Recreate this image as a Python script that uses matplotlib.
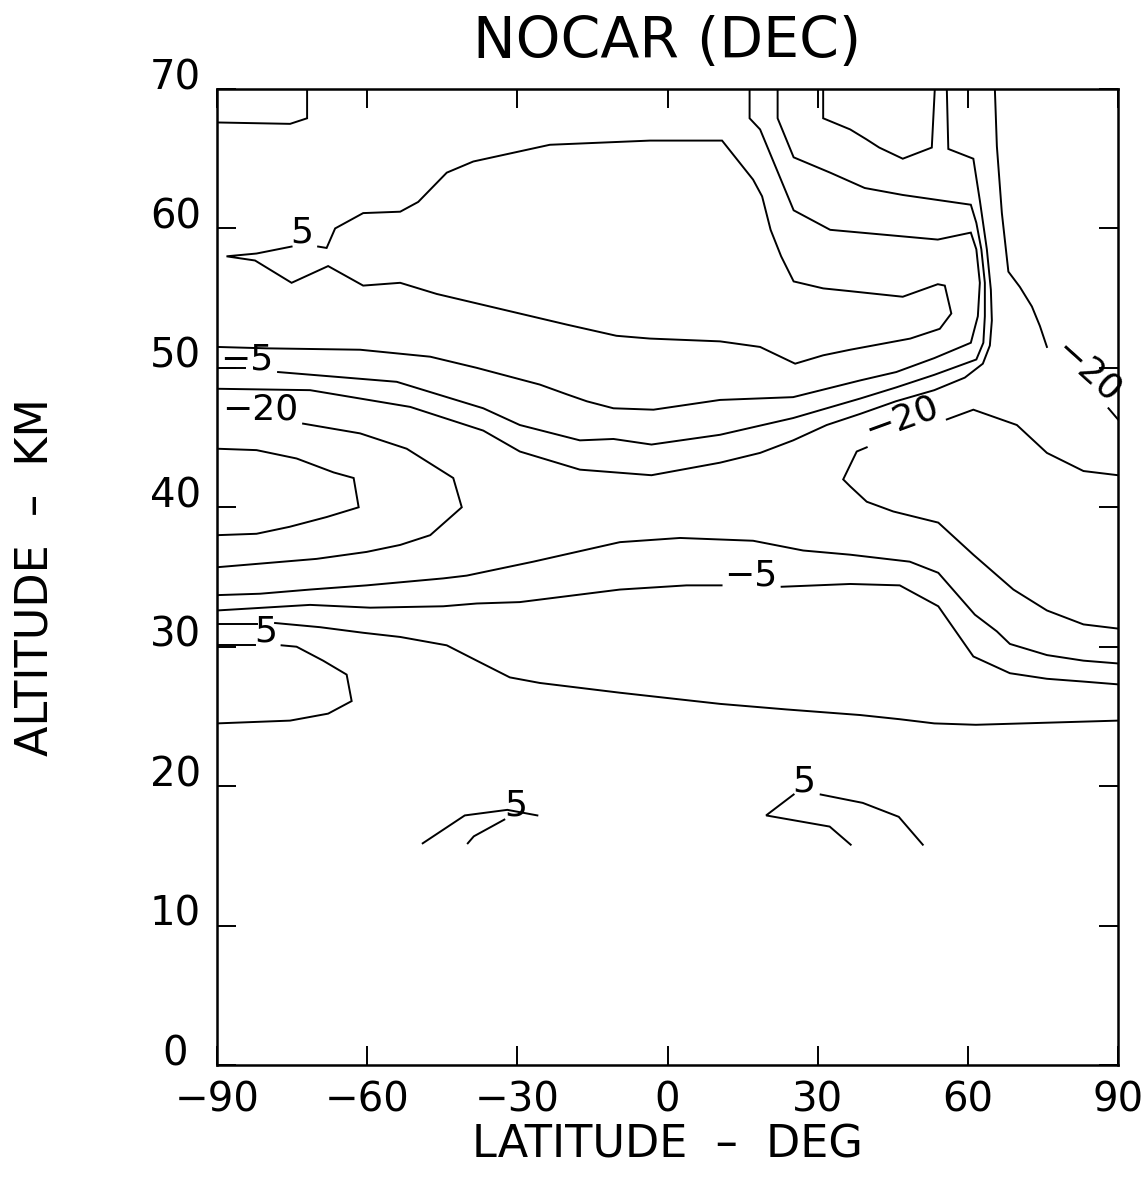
import matplotlib
matplotlib.use("Agg")
import matplotlib.pyplot as plt

# contour lines of the NOCAR December cross-section
# (latitude in deg, altitude in km); label gaps split a line in two pieces

# small contour in the upper left corner
topleft_lat = [-90.0, -75.4, -72.0, -72.0]
topleft_alt = [67.6, 67.5, 67.9, 70.0]

# closed +5 contour at 50-66 km (starts after its label)
c5_lat = [-69.8, -68.1, -66.4, -60.8, -53.4, -49.8, -44.1, -38.8, -23.5, -3.5,
          10.9, 17.1, 18.9, 20.6, 22.7, 25.2, 31.1, 36.5, 47.0, 54.0, 55.4, 56.7,
          54.4, 48.5, 36.5, 31.1, 25.5, 18.5, 10.5, -3.5, -10.2, -20.1, -46.1,
          -53.4, -60.8, -67.8, -75.1, -82.4, -88.1, -82.1, -75.1]
c5_alt = [58.7, 58.6, 60.0, 61.1, 61.2, 61.9, 64.0, 64.8, 66.0, 66.3,
          66.3, 63.5, 62.3, 59.9, 58.0, 56.2, 55.7, 55.5, 55.1, 56.0, 55.9, 53.9,
          52.8, 52.1, 51.3, 50.9, 50.3, 51.5, 51.9, 52.1, 52.3, 53.1, 55.3,
          56.1, 55.9, 57.3, 56.1, 57.7, 58.0, 58.2, 58.7]

# 0 contour: from the top near 16N, round the +5 cell, to the left edge
c0_lat = [16.4, 16.4, 18.5, 25.2, 32.5, 54.0, 60.6, 61.7, 62.4, 62.0, 60.6,
          53.3, 45.7, 38.5, 25.1, 10.5, -2.8, -10.8, -16.1, -20.1, -25.5,
          -38.1, -47.4, -61.4, -80.1, -90.0]
c0_alt = [70.0, 67.9, 67.1, 61.3, 59.9, 59.2, 59.7, 58.5, 56.1, 53.7, 51.8,
          50.7, 49.7, 49.1, 47.9, 47.7, 47.0, 47.1, 47.6, 48.1, 48.8,
          50.0, 50.8, 51.3, 51.4, 51.5]

# -5 contour: from the top near 22N to the left edge (label at the left)
cm5_lat = [22.0, 22.0, 25.2, 32.5, 39.4, 47.0, 60.6, 61.7, 62.7, 63.4, 63.4,
           63.1, 61.7, 53.3, 45.7, 38.5, 25.1, 10.5, -3.2, -10.8, -17.5,
           -29.5, -36.8, -54.1, -77.8]
cm5_alt = [70.0, 67.9, 65.1, 64.0, 62.9, 62.4, 61.7, 60.4, 58.5, 56.1, 53.7,
           51.8, 50.6, 49.5, 48.6, 47.8, 46.4, 45.2, 44.5, 44.9, 44.8,
           45.9, 47.1, 49.0, 49.7]
cm5_stub_lat = [-90.0, -84.4]
cm5_stub_alt = [50.0, 50.0]

# -10 contour: from the top near 56N to the left edge
cm10_lat = [55.8, 56.1, 61.1, 62.4, 63.8, 64.6, 64.8, 64.4, 63.0, 59.4, 53.3,
            45.6, 38.5, 31.8, 25.1, 18.5, 10.5, -3.2, -17.5, -29.5, -36.8,
            -51.4, -71.4, -90.0]
cm10_alt = [70.0, 65.7, 65.0, 62.0, 58.5, 55.6, 53.4, 51.6, 50.3, 49.3, 48.4,
            47.6, 46.7, 45.9, 44.8, 43.9, 43.2, 42.3, 42.7, 44.0, 45.5,
            47.2, 48.4, 48.5]

# bowl shaped contour hanging from the top at 30-55N
bowl_lat = [31.1, 31.1, 36.5, 39.7, 42.3, 47.0, 52.8, 53.4]
bowl_alt = [70.0, 67.9, 67.1, 66.4, 65.8, 65.0, 65.8, 70.0]

# -20 contour in the upper right corner (label near the right edge)
cm20a_lat = [65.4, 65.8, 66.8, 68.1, 70.4, 72.8, 74.4, 75.8]
cm20a_alt = [70.0, 65.9, 61.1, 56.9, 55.8, 54.4, 53.0, 51.5]
cm20a_end_lat = [88.1, 90.0]
cm20a_end_alt = [47.1, 46.3]

# -20 cell entering from the right edge
cm20b_lat = [90.0, 83.1, 75.8, 69.8, 61.1, 55.8]
cm20b_alt = [42.3, 42.6, 43.9, 45.9, 47.0, 46.3]
cm20b_low_lat = [39.8, 37.8, 35.1, 36.5, 39.8, 45.1, 54.1, 61.1, 69.1, 75.8, 83.1, 90.0]
cm20b_low_alt = [44.3, 44.0, 42.0, 41.5, 40.4, 39.7, 38.9, 36.6, 34.1, 32.6, 31.6, 31.3]

# -20 cell entering from the left edge
cm20c_lat = [-72.8, -61.4, -52.1, -42.8, -41.1, -47.4, -53.4, -60.1, -70.1, -90.0]
cm20c_alt = [46.0, 45.3, 44.2, 42.1, 40.0, 38.0, 37.3, 36.8, 36.3, 35.7]

# innermost cell at the left edge near 40 km
inner_lat = [-90.0, -82.1, -74.1, -66.7, -62.7, -61.7, -68.1, -75.5, -82.1, -90.0]
inner_alt = [44.2, 44.1, 43.5, 42.5, 42.1, 40.0, 39.3, 38.6, 38.1, 38.0]

# lower -10 contour, edge to edge
lm10_lat = [-90.0, -81.4, -71.4, -60.1, -44.8, -40.1, -26.8, -9.5, 2.5, 17.1,
            27.1, 36.5, 48.4, 54.1, 61.4, 65.8, 68.4, 75.8, 83.1, 90.0]
lm10_alt = [33.7, 33.8, 34.1, 34.4, 34.9, 35.1, 36.1, 37.5, 37.8, 37.6,
            36.9, 36.6, 36.1, 35.3, 32.3, 31.1, 30.2, 29.4, 29.0, 28.8]

# lower -5 contour, edge to edge (label near 17N)
lm5_lat = [-90.0, -71.4, -59.4, -44.8, -38.1, -29.5, -9.5, 3.8, 10.8]
lm5_alt = [32.6, 33.0, 32.8, 32.9, 33.1, 33.2, 34.1, 34.4, 34.4]
lm5_right_lat = [22.8, 36.5, 46.4, 54.1, 61.1, 68.4, 75.8, 83.1, 90.0]
lm5_right_alt = [34.3, 34.5, 34.4, 32.9, 29.3, 28.1, 27.7, 27.5, 27.3]

# lower 0 contour, edge to edge
l0_stub_lat = [-90.0, -82.1]
l0_stub_alt = [31.6, 31.6]
l0_lat = [-78.4, -69.4, -60.8, -53.4, -44.1, -38.1, -31.5, -25.5, -9.5, 10.5,
          23.8, 38.5, 46.4, 53.3, 61.6, 90.0]
l0_alt = [31.7, 31.4, 31.0, 30.7, 30.1, 29.0, 27.8, 27.4, 26.7, 25.9,
          25.5, 25.1, 24.8, 24.5, 24.4, 24.7]

# +5 lobe at the left edge near 27 km
lobe5_stub_lat = [-90.0, -82.4]
lobe5_stub_alt = [30.1, 30.1]
lobe5_lat = [-77.1, -74.1, -68.8, -64.1, -63.1, -67.8, -75.4, -90.0]
lobe5_alt = [30.1, 30.0, 29.0, 28.0, 26.1, 25.2, 24.7, 24.5]

# +5 arcs near 16-19 km
arc_sh_lat = [-48.9, -40.5, -32.0, -26.0]
arc_sh_alt = [15.9, 17.9, 18.3, 17.9]
arc_sh_back_lat = [-32.6, -38.7, -39.9]
arc_sh_back_alt = [17.6, 16.4, 15.9]
arc_nh_lat = [36.6, 32.4, 19.7, 25.2]
arc_nh_alt = [15.8, 17.1, 17.9, 19.4]
arc_nh_right_lat = [30.6, 39.0, 46.2, 51.0]
arc_nh_right_alt = [19.4, 18.8, 17.8, 15.8]

# contour labels
label_text = ["5", "\u22125", "\u221220", "\u221220", "\u221220", "\u22125", "5", "5", "5"]
label_lat = [-73.1, -84.1, -81.3, 46.8, 84.0, 16.7, -80.2, -30.3, 27.3]
label_alt = [59.7, 50.6, 47.0, 46.4, 49.7, 35.1, 31.1, 18.6, 20.3]
label_rot = [0, 0, 0, 20, -42, 0, 0, 0, 0]

xticks = [-90, -60, -30, 0, 30, 60, 90]
yticks = [0, 10, 20, 30, 40, 50, 60, 70]

lines = [
    (topleft_lat, topleft_alt), (c5_lat, c5_alt), (c0_lat, c0_alt),
    (cm5_lat, cm5_alt), (cm5_stub_lat, cm5_stub_alt), (cm10_lat, cm10_alt),
    (bowl_lat, bowl_alt), (cm20a_lat, cm20a_alt), (cm20a_end_lat, cm20a_end_alt),
    (cm20b_lat, cm20b_alt), (cm20b_low_lat, cm20b_low_alt), (cm20c_lat, cm20c_alt),
    (inner_lat, inner_alt), (lm10_lat, lm10_alt), (lm5_lat, lm5_alt),
    (lm5_right_lat, lm5_right_alt), (l0_stub_lat, l0_stub_alt), (l0_lat, l0_alt),
    (lobe5_stub_lat, lobe5_stub_alt), (lobe5_lat, lobe5_alt),
    (arc_sh_lat, arc_sh_alt), (arc_sh_back_lat, arc_sh_back_alt),
    (arc_nh_lat, arc_nh_alt), (arc_nh_right_lat, arc_nh_right_alt),
]

plt.rcParams['font.family'] = ['DejaVu Sans']

fig = plt.figure(figsize=(11.48, 11.92), dpi=100)
ax = fig.add_axes([217 / 1148, 127 / 1192, 901 / 1148, 976 / 1192])

for lat, alt in lines:
    ax.plot(lat, alt, color='black', lw=1.4, solid_joinstyle='miter')

for s, x, y, r in zip(label_text, label_lat, label_alt, label_rot):
    ax.text(x, y, s, ha='center', va='center', rotation=r, fontsize=26,
            rotation_mode='anchor')

ax.set_xlim(-90, 90)
ax.set_ylim(0, 70)
ax.set_xticks(xticks)
ax.set_xticklabels([str(t).replace('-', '\u2212') for t in xticks])
ax.set_yticks(yticks)
ax.set_yticklabels([str(t) for t in yticks], va='baseline', ha='center')

ax.tick_params(direction='in', length=14, width=1.4, top=True, right=True,
               labelsize=29)
ax.tick_params(axis='x', pad=11)
ax.tick_params(axis='y', pad=30)
for sp in ax.spines.values():
    sp.set_linewidth(1.8)

ax.set_title('NOCAR (DEC)', fontsize=41, pad=22)
ax.set_xlabel('LATITUDE  \u2013  DEG', fontsize=32)
ax.set_ylabel('ALTITUDE  \u2013  KM', fontsize=32)
ax.xaxis.set_label_coords(0.5, -0.06)
ax.yaxis.set_label_coords(-0.178, 0.5)

fig.savefig('out.png', dpi=100)
